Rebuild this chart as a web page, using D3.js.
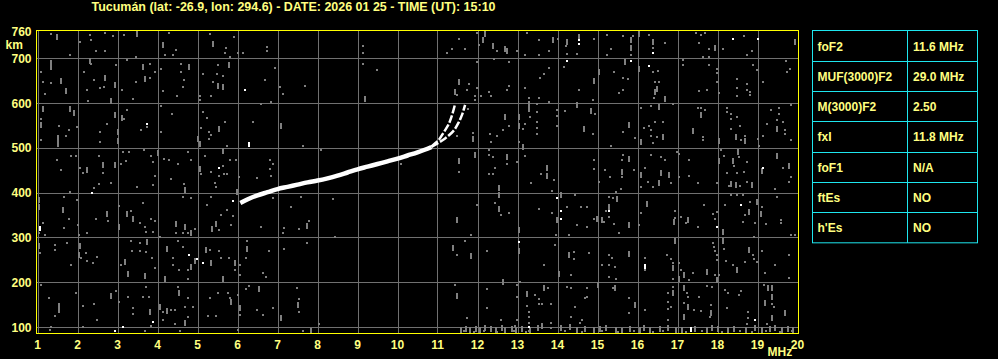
<!DOCTYPE html>
<html>
<head>
<meta charset="utf-8">
<script src="https://cdn.jsdelivr.net/npm/d3@7"></script>
<style>
  html, body { margin: 0; padding: 0; background: #000; }
  svg { display: block; }
  text { font-family: "Liberation Sans", Arial, sans-serif; font-weight: bold; }
</style>
</head>
<body>
<div id="ionogram"></div>
<script>
// *** DATA *** //

var title = "Tucumán (lat: -26.9, lon: 294.6) - DATE: 2026 01 25 - TIME (UT): 15:10";

var freq_ticks = [1, 2, 3, 4, 5, 6, 7, 8, 9, 10, 11, 12, 13, 14, 15, 16, 17, 18, 19, 20];
var height_ticks = [100, 200, 300, 400, 500, 600, 700];
var height_labels = [100, 200, 300, 400, 500, 600, 700, 760];

var param_names = ["foF2", "MUF(3000)F2", "M(3000)F2", "fxI", "foF1", "ftEs", "h'Es"];
var param_values = ["11.6 MHz", "29.0 MHz", "2.50", "11.8 MHz", "N/A", "NO", "NO"];

// F2 trace [MHz, km]
var trace_common = [[6.07, 377], [6.3, 387], [6.5, 394], [6.75, 401], [7.0, 408], [7.25, 413], [7.5, 418],
  [7.75, 423], [8.0, 427], [8.25, 432], [8.5, 438], [8.75, 445], [9.0, 452], [9.25, 458], [9.5, 464],
  [9.75, 470], [10.0, 476], [10.25, 483], [10.5, 490], [10.75, 498], [10.85, 502]];
var trace_o = [[10.85, 503], [10.95, 511], [11.05, 520], [11.15, 534], [11.28, 553], [11.36, 572], [11.44, 598]];
var trace_x = [[10.85, 502], [11.0, 510], [11.19, 521], [11.4, 538], [11.53, 557], [11.61, 573], [11.69, 596]];

// background noise [MHz, km]
var noise_dots = [
  [1.34,754],[1.09,670],[1.13,648],[1.34,644],[1.18,620],[1.80,707],[2.05,736],[2.30,751],[2.34,740],[2.68,757],[2.88,749],[2.47,717],[2.68,717],[2.34,687],[2.17,670],[2.42,652],[2.55,633],[2.67,637],[2.24,630],[2.26,605],[2.97,684],[3.15,752],[3.47,703],[3.23,697],[3.80,687],[3.93,670],[3.47,648],[3.80,656],[3.11,630],[3.38,609],[4.30,757],[4.47,719],[4.18,707],[4.38,707],[4.59,687],[4.59,670],[4.67,651],[4.63,637],[4.09,675],[4.13,626],[4.49,616],[5.30,754],[5.69,712],[5.80,702],[5.92,747],[5.72,723],[6.00,712],[6.13,712],[5.50,684],[5.13,665],[5.49,665],[5.63,661],[5.38,648],[5.05,616],[5.05,607],[5.34,616],[6.69,651],[6.93,678],[6.74,725],[6.74,716],[7.05,637],[7.13,620],[6.84,603],
  [1.09,564],[1.98,547],[1.53,549],[1.78,540],[1.09,518],[1.72,527],[3.24,584],[3.15,564],[2.73,553],[2.55,536],[2.55,512],[3.74,546],[3.59,540],[4.09,594],[4.37,575],[4.09,536],[5.13,581],[5.24,566],[5.09,544],[5.28,536],[5.34,528],[5.69,557],[5.28,520],[5.74,505],[6.39,557],[6.59,598],
  [1.84,482],[1.95,482],[1.49,473],[1.59,451],[2.05,454],[2.13,443],[2.53,482],[2.63,443],[3.13,491],[3.28,491],[3.09,463],[3.20,470],[3.67,496],[3.84,482],[3.93,437],[3.88,469],[4.17,476],[4.30,473],[4.51,463],[4.76,490],[4.84,473],[4.34,430],[5.09,441],[5.19,482],[5.34,446],[5.63,460],[5.53,437],[5.65,441],[5.73,441],[5.80,473],[5.95,473],[6.03,434],[6.48,432],[6.80,473],[6.88,463],[6.85,437],[6.80,452],
  [9.13,727],[9.13,712],[9.13,688],[9.48,674],[7.69,639],[7.63,505],[8.08,496],[10.08,463],[11.53,743],[11.23,712],[11.36,721],[11.69,721],[11.98,757],[12.03,730],[12.48,717],[12.98,717],[13.23,757],[13.19,707],[13.53,740],[13.53,707],[12.40,698],[11.98,691],[12.79,691],[13.65,665],[13.55,655],[11.79,643],[11.73,630],[11.48,618],[11.94,616],[11.94,607],[12.08,616],[12.29,625],[12.34,616],[11.98,633],[12.78,639],[12.73,630],[13.19,633],[13.29,611],[13.53,611],[13.48,598],[13.48,579],[13.48,557],[13.48,545],[13.48,531],[13.31,568],[13.19,553],[13.13,542],[12.78,549],[12.63,540],[12.48,527],[12.30,531],[12.34,514],[11.88,534],[11.77,587],[11.48,527],[12.29,496],[12.29,483],[12.38,479],[12.73,463],[13.03,512],[13.19,482],[11.54,446],[12.29,441],[12.38,441],[12.43,456],[13.58,441],[12.98,469],
  [14.00,743],[14.21,727],[13.79,717],[14.23,710],[14.48,710],[14.90,743],[15.23,752],[15.33,721],[15.23,707],[15.64,749],[15.89,749],[15.83,708],[16.29,751],[16.68,734],[16.38,724],[17.46,757],[17.58,752],[17.69,757],[17.54,734],[17.79,721],[17.63,702],[17.79,702],[18.67,749],[18.13,721],[18.73,707],[18.86,717],[14.17,680],[13.79,678],[14.54,630],[15.40,670],[14.89,607],[15.64,657],[15.75,653],[15.64,630],[15.54,622],[16.50,672],[16.38,670],[16.44,646],[16.54,646],[16.42,611],[17.14,684],[17.13,697],[17.79,684],[17.98,676],[17.98,667],[17.98,648],[17.73,630],[17.53,626],[18.03,622],[18.48,654],[18.48,633],[18.48,616],[18.73,643],[18.73,630],[18.82,624],[18.82,618],[18.88,684],[18.98,674],[19.13,648],[19.71,693],[19.73,670],[19.81,675],[13.79,603],
  [13.98,585],[13.98,572],[13.98,549],[14.18,583],[14.93,575],[14.89,530],[15.33,504],[15.64,536],[15.93,522],[16.08,588],[16.33,594],[16.15,544],[16.29,548],[16.33,540],[16.43,558],[16.63,558],[16.33,527],[16.48,525],[16.38,510],[16.89,598],[17.50,589],[17.58,589],[17.69,585],[17.64,525],[17.63,517],[18.23,589],[18.23,580],[18.33,575],[18.33,565],[18.48,570],[18.57,548],[18.33,542],[18.58,518],[18.69,527],[19.00,519],[19.14,527],[19.04,505],[19.23,553],[19.33,585],[19.54,589],[19.54,575],[19.48,563],[19.63,558],[19.68,540],[19.68,530],[19.83,518],[19.84,595],
  [13.92,428],[14.92,473],[14.90,452],[15.19,450],[15.32,434],[15.64,483],[15.60,473],[15.60,436],[15.90,450],[16.19,454],[16.33,483],[16.58,479],[16.68,473],[16.99,490],[17.04,486],[17.29,473],[17.29,437],[17.04,434],[18.08,496],[18.17,482],[18.42,460],[18.23,443],[18.48,443],[18.54,479],[18.73,469],[18.67,446],[19.63,456],[19.83,434],
  [1.03,310],[1.13,332],[1.18,305],[1.78,342],[1.65,320],[1.98,384],[1.67,390],[1.80,401],[2.01,327],[2.03,306],[2.23,309],[2.53,420],[2.42,411],[2.84,421],[2.76,337],[2.45,342],[3.03,370],[3.34,359],[3.55,332],[3.63,377],[3.49,413],[3.88,416],[3.83,342],[3.94,337],[3.72,312],[3.68,324],[3.88,312],[4.65,420],[4.63,390],[4.84,387],[4.75,309],[4.63,309],[4.47,310],[4.94,318],[5.43,422],[5.47,413],[5.34,390],[5.24,372],[5.59,349],[5.53,316],[5.74,362],[5.88,347],[5.84,327],[7.17,322],[7.13,310],[6.59,324],[6.88,387],
  [1.07,266],[1.43,273],[1.43,283],[1.73,288],[2.09,253],[2.20,266],[2.38,243],[2.23,248],[2.49,257],[1.84,238],[3.09,238],[3.34,292],[3.55,288],[3.37,270],[3.55,270],[3.72,268],[3.87,253],[3.93,231],[4.07,300],[4.38,253],[4.38,238],[4.51,292],[4.63,279],[4.76,228],[4.76,208],[4.53,228],[5.30,272],[5.53,270],[5.59,255],[5.78,255],[5.94,227],[6.23,292],[6.07,238],[6.20,255],[6.07,216],[6.63,221],[6.72,212],[7.17,275],[6.78,270],
  [1.09,194],[1.28,164],[1.43,124],[1.34,101],[1.30,93],[1.97,175],[2.13,147],[2.40,151],[2.13,101],[2.49,116],[2.97,181],[3.03,156],[3.38,142],[3.38,129],[3.26,166],[3.63,166],[3.78,166],[3.72,190],[3.84,102],[4.13,134],[4.34,138],[4.43,138],[4.13,116],[4.43,107],[4.51,190],[4.76,164],[4.68,145],[4.88,145],[4.76,123],[3.68,90],[4.57,90],[5.26,124],[5.30,164],[5.47,124],[5.51,175],[5.76,175],[5.80,164],[6.07,127],[6.01,171],[6.22,184],[6.48,138],[6.63,127],[6.88,143],[6.01,93],[6.30,191],
  [7.59,390],[8.38,385],[7.34,368],[7.79,337],[7.54,318],[7.73,288],[8.44,301],[7.48,186],[7.54,162],[7.54,134],[8.04,107],[7.63,90],[11.48,260],[11.69,292],[11.84,305],[11.98,372],[12.23,270],[12.44,377],[12.58,351],[12.79,355],[13.33,421],[13.54,363],[13.07,201],[12.98,194],[12.98,168],[13.23,147],[13.44,171],[13.53,162],[13.53,151],[13.61,151],[13.65,238],[12.23,185],[12.23,143],[11.44,194],[11.73,121],[12.58,116],[12.98,116],[12.93,102],[13.28,134],[13.28,122],[13.28,110],[13.28,92],
  [13.85,404],[13.87,355],[14.23,368],[14.43,394],[14.58,368],[14.73,368],[14.50,327],[14.73,324],[14.90,342],[14.29,305],[13.96,305],[15.04,424],[15.21,359],[15.39,387],[15.58,409],[15.47,401],[15.29,390],[15.17,335],[15.29,346],[15.42,331],[15.54,310],[16.08,413],[16.25,424],[16.39,413],[16.83,421],[16.08,355],[16.04,327],[16.94,359],[16.94,344],[17.08,345],[17.21,332],[17.50,324],[17.65,372],[17.88,353],[17.98,357],[17.93,342],[17.50,421],[17.98,421],[18.29,414],[18.57,414],[18.73,424],[18.33,394],[18.48,394],[18.64,394],[18.18,372],[18.82,379],[18.69,350],[19.10,368],[19.21,331],[18.93,332],[18.65,335],[19.58,339],[19.58,332],[19.43,409],[19.48,390],[19.79,424],[19.83,305],[19.93,305],[18.92,301],
  [13.94,283],[14.40,268],[14.40,251],[14.79,266],[14.35,216],[15.29,260],[15.35,255],[15.10,238],[15.29,238],[15.43,233],[15.29,212],[15.46,208],[16.18,255],[16.18,227],[16.73,260],[16.83,251],[16.88,242],[16.90,208],[17.04,243],[17.08,228],[17.28,206],[17.39,221],[17.88,288],[17.90,279],[17.93,270],[17.98,260],[17.98,249],[17.93,216],[18.04,216],[18.17,275],[18.21,248],[18.39,238],[18.88,260],[18.92,251],[18.69,245],[18.98,246],[19.10,270],[19.18,221],[19.43,238],[19.79,260],[19.79,210],
  [13.75,186],[13.83,151],[14.23,190],[14.33,188],[14.73,188],[14.68,164],[14.73,167],[14.43,144],[14.33,123],[14.60,116],[14.57,109],[13.83,108],[13.83,97],[15.38,186],[15.79,164],[15.79,131],[16.18,138],[16.75,175],[16.90,190],[16.75,156],[16.75,141],[16.83,145],[16.75,116],[17.23,175],[17.27,167],[17.15,154],[17.40,139],[17.54,167],[17.58,136],[17.83,149],[17.82,123],[17.73,191],[17.86,190],[18.19,182],[18.25,176],[18.58,181],[18.53,171],[18.23,142],[18.75,134],[18.75,121],[18.73,107],[19.17,194],[19.37,152],[19.40,145],[19.23,107]
];

var noise_streaks = [
  [1.49,747],[1.34,680],[1.34,690],[1.59,650],[1.70,628],[2.30,695],[2.69,657],[2.94,641],[2.84,605],[3.49,754],[3.63,680],[3.68,654],[4.13,730],[4.78,680],[5.38,732],[5.78,686],[5.51,639],[5.63,635],[1.13,587],[1.09,551],[1.80,587],[1.90,577],[1.51,523],[1.51,508],[3.11,566],[2.93,573],[3.02,536],[3.00,516],[5.01,520],[5.05,508],[5.53,542],[7.09,549],[2.23,450],[2.63,461],[2.94,461],[4.01,488],[5.05,452],[5.63,493],
  [9.19,609],[12.18,754],[12.13,740],[12.38,728],[12.69,720],[12.73,716],[11.53,648],[11.44,624],[13.29,598],[13.29,587],[13.03,568],[13.03,549],[12.69,568],[11.88,520],[11.94,484],[12.73,480],[13.13,503],[11.53,471],
  [13.89,740],[14.23,737],[14.54,747],[15.85,740],[15.85,723],[16.04,754],[16.38,736],[17.93,724],[19.93,737],[14.92,650],[15.03,669],[15.69,691],[16.04,675],[16.48,631],[16.43,624],[16.68,609],[14.48,595],[14.83,583],[14.65,543],[15.79,551],[16.08,512],[16.54,592],[16.63,525],[17.58,573],[17.39,538],[18.04,515],[18.46,525],[18.69,516],[19.48,543],[13.73,456],[13.73,437],[15.60,447],[15.79,475],[16.08,439],[16.58,443],[16.79,439],[18.04,471],[18.38,471],[18.50,490],[19.10,449],[19.48,481],[19.79,459],
  [1.03,383],[1.03,367],[1.63,362],[2.73,352],[3.03,323],[3.23,353],[3.38,342],[4.68,405],[4.45,331],[4.68,323],[4.84,309],[5.45,331],[5.37,318],[5.98,401],[1.03,280],[2.07,280],[2.03,260],[3.18,246],[3.73,290],[3.26,218],[3.68,214],[4.23,275],[4.93,247],[4.84,233],[4.18,208],[5.20,272],[5.34,242],[5.94,242],[6.23,275],[5.63,208],[1.53,147],[1.53,137],[2.84,169],[3.80,134],[4.05,145],[4.23,136],[4.53,175],[4.68,108],[5.83,156],[6.07,143],[6.53,184],[7.09,119],
  [7.73,325],[7.50,150],[7.83,92],[11.48,338],[11.38,277],[11.84,258],[12.54,411],[12.54,394],[12.54,364],[13.03,316],[13.03,270],[12.64,201],[13.23,174],[13.65,186],[11.48,169],[13.61,102],
  [14.08,394],[13.98,338],[14.98,342],[15.29,368],[15.48,385],[15.10,338],[15.79,327],[16.54,421],[16.23,374],[16.92,334],[17.27,339],[18.14,312],[18.33,420],[18.46,418],[18.85,416],[18.79,357],[18.98,379],[19.08,353],[14.29,260],[14.04,218],[15.79,264],[16.89,231],[16.93,292],[17.04,208],[17.17,216],[17.73,223],[17.98,206],[18.14,292],[18.48,228],[18.79,271],[15.02,194],[15.44,188],[15.93,149],[16.90,175],[17.15,186],[17.25,145],[17.83,131],[17.15,123],[19.27,186],[19.37,187],[19.37,167],[19.18,153],[19.68,132],[19.37,120]
];

// dense interference near the bottom edge
var band_streaks = [[11.60,94],[11.70,95],[11.80,93],[11.95,96],[12.05,94],[12.20,97],[12.35,95],[12.45,93],[12.60,98],[12.70,94],[12.85,96],[12.95,93],[13.10,95],[13.30,94],[13.50,97],[14.08,98],[14.30,99],[14.50,94],[14.70,96],[14.90,93],[15.05,95],[15.20,97],[15.45,94],[15.60,92],[15.80,96],[16.05,94],[16.15,98],[16.30,93],[16.55,95],[16.75,97],[16.95,94],[17.10,93],[17.45,96],[17.75,94],[17.85,97],[18.00,95],[18.25,93],[18.40,96],[18.70,94],[18.95,97],[19.10,93],[19.30,95],[19.45,98],[19.60,94],[19.75,96],[19.90,93]];
var band_dots = [[11.65,90],[11.9,89],[12.15,90],[12.5,89],[12.9,90],[13.2,89],[14.2,90],[14.6,89],[15.1,90],[15.5,89],[15.9,90],[16.4,89],[16.65,90],[17.2,89],[17.6,90],[18.1,89],[18.55,90],[18.85,89],[19.2,90],[19.55,89],[19.85,90]];

// strong isolated echoes
var echo_dots = [[6.19,629],[3.74,553],[5.53,456],[14.54,740],[14.54,731],[16.38,712],[18.38,743],[19.01,743],[14.23,693],[15.84,693],[16.29,683],[19.14,456],[2.37,399],[5.88,381],[4.78,261],[4.98,252],[5.13,243],[3.88,112],[3.13,99],[2.94,90],[13.03,290],[13.28,100],[13.98,387],[14.08,359],[14.08,341],[15.29,359],[17.98,324],[18.58,372],[18.93,116]];
var echo_streaks = [[6.29,507],[1.05,320],[16.18,236],[17.33,94]];

var freq_extent = [0.97, 20];
var height_extent = [86.5, 764];

var create_ionogram = function() {
  var width = 998, height = 359;
  var yellow = "#ffff00";
  var label_yellow = "#ffff80";
  var grid_gray = "#707070";
  var noise_gray = "#808080";
  var cyan = "#1ee6ee";

  var svg = d3.select("#ionogram").append("svg")
      .attr("width", width)
      .attr("height", height);

  svg.append("rect").attr("width", width).attr("height", height).attr("fill", "#000");

  var x = d3.scaleLinear().domain([1, 20]).range([37.5, 797.5]);
  var y = d3.scaleLinear().domain([100, 700]).range([327, 58.3]);

  var px = function(v) { return Math.round(x(v)) + 0.5; };
  var py = function(v) { return Math.round(y(v)) + 0.5; };

  var left = Math.round(x(freq_extent[0])) + 0.5;
  var right = Math.round(x(freq_extent[1])) + 0.5;
  var top = Math.round(y(height_extent[1])) + 0.5;
  var bottom = Math.round(y(height_extent[0])) + 0.5;

  // *** TITLE *** //
  svg.append("text")
      .attr("x", 91.5)
      .attr("y", 11)
      .attr("fill", label_yellow)
      .attr("font-size", 12)
      .attr("textLength", 404)
      .attr("lengthAdjust", "spacingAndGlyphs")
      .text(title);

  // *** GRID *** //
  svg.append("g").selectAll("line").data(freq_ticks).enter().append("line")
      .attr("x1", px).attr("x2", px)
      .attr("y1", top).attr("y2", bottom)
      .attr("stroke", grid_gray).attr("stroke-width", 1);

  svg.append("g").selectAll("line").data(height_ticks).enter().append("line")
      .attr("x1", left).attr("x2", right)
      .attr("y1", py).attr("y2", py)
      .attr("stroke", grid_gray).attr("stroke-width", 1);

  // *** NOISE *** //
  var draw_marks = function(data, fill, w, h) {
    svg.append("g").selectAll("rect").data(data).enter().append("rect")
        .attr("x", function(d) { return Math.round(x(d[0]) - w / 2); })
        .attr("y", function(d) { return Math.round(y(d[1]) - h / 2); })
        .attr("width", w)
        .attr("height", h)
        .attr("fill", fill);
  };

  draw_marks(noise_dots, noise_gray, 2, 2);
  draw_marks(noise_streaks, noise_gray, 2, 6);
  draw_marks(band_dots, noise_gray, 2, 2);
  draw_marks(band_streaks, noise_gray, 2, 6);
  draw_marks(echo_dots, "#ffffff", 2, 2);
  draw_marks(echo_streaks, "#ffffff", 2, 5);

  // *** TRACE *** //
  var line = d3.line()
      .x(function(d) { return x(d[0]); })
      .y(function(d) { return y(d[1]); })
      .curve(d3.curveCatmullRom);

  svg.append("path").datum(trace_common)
      .attr("d", line)
      .attr("fill", "none")
      .attr("stroke", "#ffffff")
      .attr("stroke-width", 4.5);

  [trace_o, trace_x].forEach(function(branch) {
    svg.append("path").datum(branch)
        .attr("d", line)
        .attr("fill", "none")
        .attr("stroke", "#ffffff")
        .attr("stroke-width", 2.5)
        .attr("stroke-dasharray", "8,2");
  });

  // *** FRAME *** //
  svg.append("rect")
      .attr("x", left).attr("y", top)
      .attr("width", right - left).attr("height", bottom - top)
      .attr("fill", "none")
      .attr("stroke", yellow)
      .attr("stroke-width", 1);

  // *** AXIS LABELS *** //
  svg.append("g").selectAll("text").data(freq_ticks).enter().append("text")
      .attr("x", function(d) { return x(d); })
      .attr("y", 349)
      .attr("text-anchor", "middle")
      .attr("fill", label_yellow)
      .attr("font-size", 12)
      .text(function(d) { return d; });

  svg.append("text")
      .attr("x", 767.5).attr("y", 356)
      .attr("fill", label_yellow)
      .attr("font-size", 12)
      .text("MHz");

  svg.append("g").selectAll("text").data(height_labels).enter().append("text")
      .attr("x", 31.5)
      .attr("y", function(d) { return y(d) + 4.5; })
      .attr("text-anchor", "end")
      .attr("fill", label_yellow)
      .attr("font-size", 12)
      .text(function(d) { return d; });

  svg.append("text")
      .attr("x", 5.5).attr("y", 48.5)
      .attr("fill", label_yellow)
      .attr("font-size", 12)
      .text("km");

  // *** PARAMETER TABLE *** //
  var table_left = 812.5, table_right = 977.5, table_mid = 907.5;
  var table_top = 30.5, row_height = 30.33;
  var row_count = param_names.length;

  var table = svg.append("g");
  table.append("rect")
      .attr("x", table_left).attr("y", table_top)
      .attr("width", table_right - table_left)
      .attr("height", row_height * row_count)
      .attr("fill", "none")
      .attr("stroke", cyan);

  table.append("line")
      .attr("x1", table_mid).attr("x2", table_mid)
      .attr("y1", table_top).attr("y2", table_top + row_height * row_count)
      .attr("stroke", cyan);

  table.selectAll("line.row").data(d3.range(1, row_count)).enter().append("line")
      .attr("class", "row")
      .attr("x1", table_left).attr("x2", table_right)
      .attr("y1", function(i) { return Math.round(table_top + i * row_height) + 0.5; })
      .attr("y2", function(i) { return Math.round(table_top + i * row_height) + 0.5; })
      .attr("stroke", cyan);

  table.selectAll("text.name").data(param_names).enter().append("text")
      .attr("class", "name")
      .attr("x", 817.5)
      .attr("y", function(d, i) { return table_top + i * row_height + 20; })
      .attr("fill", label_yellow)
      .attr("font-size", 12)
      .text(function(d) { return d; });

  table.selectAll("text.value").data(param_values).enter().append("text")
      .attr("class", "value")
      .attr("x", 913)
      .attr("y", function(d, i) { return table_top + i * row_height + 20; })
      .attr("fill", label_yellow)
      .attr("font-size", 12)
      .text(function(d) { return d; });
};

create_ionogram();
</script>
</body>
</html>
